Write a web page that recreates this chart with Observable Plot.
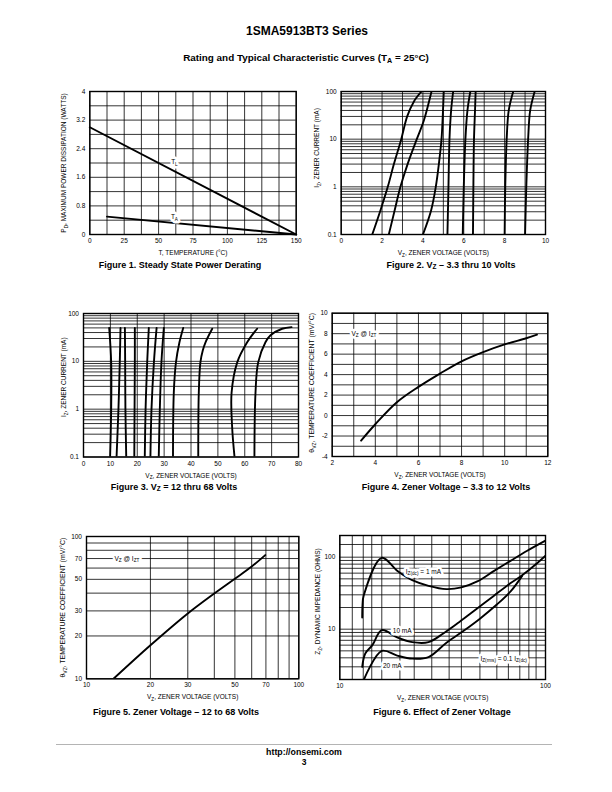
<!DOCTYPE html>
<html><head><meta charset="utf-8">
<script src="https://cdn.jsdelivr.net/npm/d3@7"></script>
<script src="https://cdn.jsdelivr.net/npm/@observablehq/plot@0.6"></script>
<style>
html,body{margin:0;padding:0;background:#fff;}
#page{position:relative;width:612px;height:792px;overflow:hidden;background:#fff;color:#000;font-family:"Liberation Sans",Arial,Helvetica,sans-serif;}
.t{position:absolute;white-space:nowrap;font-weight:bold;transform:translate(-50%,-50%);line-height:1;}
.t sub{font-size:72%;vertical-align:-0.28em;line-height:0;}
.cap{font-size:9px;}
#rule{position:absolute;left:56px;top:743.5px;width:496px;height:1.4px;background:#b4b4b4;}
</style></head>
<body><div id="page">
<div class="t" style="left:307px;top:31px;font-size:12px;">1SMA5913BT3 Series</div>
<div class="t" style="left:306px;top:58px;font-size:9.9px;">Rating and Typical Characteristic Curves (T<sub>A</sub> = 25°C)</div>
<div class="t cap" style="left:180px;top:265px;">Figure 1. Steady State Power Derating</div>
<div class="t cap" style="left:451px;top:265px;">Figure 2. V<sub>Z</sub> – 3.3 thru 10 Volts</div>
<div class="t cap" style="left:174px;top:487px;">Figure 3. V<sub>Z</sub> = 12 thru 68 Volts</div>
<div class="t cap" style="left:446px;top:487px;">Figure 4. Zener Voltage – 3.3 to 12 Volts</div>
<div class="t cap" style="left:176px;top:712px;">Figure 5. Zener Voltage – 12 to 68 Volts</div>
<div class="t cap" style="left:442px;top:712px;">Figure 6. Effect of Zener Voltage</div>
<div id="rule"></div>
<div class="t" style="left:304px;top:752.3px;font-size:8.8px;">http://onsemi.com</div>
<div class="t" style="left:304px;top:762.3px;font-size:8.5px;">3</div>
</div>
<script>
// ---------- DATA ----------
// Figure 1: power derating
const fig1XTicks = [0, 25, 50, 75, 100, 125, 150];
const fig1XGrid = [0, 12.5, 25, 37.5, 50, 62.5, 75, 87.5, 100, 112.5, 125, 137.5, 150];
const fig1YTicks = [0, 0.8, 1.6, 2.4, 3.2, 4];
const fig1YGrid = [0, 0.4, 0.8, 1.2, 1.6, 2.0, 2.4, 2.8, 3.2, 3.6, 4];
const fig1TL = [[0, 3.0], [150, 0]];
const fig1TA = [[12.5, 0.5], [150, 0]];
const fig1Labels = [{x: 61.5, y: 2.02, t: "T_{L}"}, {x: 61.5, y: 0.49, t: "T_{A}"}];

// shared log grid for zener current
const currentGrid = [0.1,0.2,0.3,0.4,0.5,0.6,0.7,0.8,0.9,1,2,3,4,5,6,7,8,9,10,20,30,40,50,60,70,80,90,100];
const currentTicks = [0.1, 1, 10, 100];

// Figure 2: Vz 3.3 thru 10 V  ([volts, mA])
const fig2XTicks = [0, 2, 4, 6, 8, 10];
const fig2XGrid = [0, 1, 2, 3, 4, 5, 6, 7, 8, 9, 10];
const fig2Curves = [
  [[1.52,0.1],[1.92,0.32],[2.28,1],[2.58,3],[2.94,10],[3.23,30],[3.56,62],[3.93,100]],
  [[2.33,0.1],[2.6,0.3],[2.9,1],[3.25,3],[3.7,10],[4.05,25],[4.42,100]],
  [[4.0,0.1],[4.4,0.32],[4.63,1],[4.78,3],[4.91,10],[4.97,30],[5.02,100]],
  [[5.2,0.1],[5.25,1],[5.3,10],[5.38,40],[5.48,100]],
  [[5.95,0.1],[6.0,1],[6.08,10],[6.18,40],[6.32,100]],
  [[6.45,0.1],[6.47,1],[6.5,10],[6.55,40],[6.58,100]],
  [[8.0,0.1],[8.03,1],[8.1,10],[8.2,40],[8.42,100]],
  [[9.0,0.1],[9.06,1],[9.15,10],[9.25,40],[9.47,100]]
];

// Figure 3: Vz 12 thru 68 V
const fig3XTicks = [0, 10, 20, 30, 40, 50, 60, 70, 80];
const fig3Curves = [
  [[9.9,0.1],[10.3,1],[10.3,9.5],[9.56,50]],
  [[12.3,0.1],[13.0,1],[13.5,9.5],[13.77,50]],
  [[15.9,0.1],[15.6,1],[15.5,9.5],[15.4,50]],
  [[18.9,0.1],[19.0,1],[19.1,9.5],[19.1,50]],
  [[22.8,0.1],[23.1,1],[23.7,9.5],[24.3,50]],
  [[24.9,0.1],[25.3,1],[26.2,9.5],[27.2,50]],
  [[28.0,0.1],[28.4,1],[29.0,9.5],[29.9,50]],
  [[33.3,0.1],[33.6,2.2],[34.4,9.5],[35.7,25],[37.1,50]],
  [[42.7,0.1],[42.9,2.2],[43.5,9.5],[44.4,17],[45.4,25],[47.9,48]],
  [[56.2,0.1],[55.3,0.43],[55.1,2.2],[57.2,9.5],[60.9,25],[64.6,48]],
  [[63.6,0.1],[64.0,2.2],[65.0,9.5],[67.7,25],[69.6,35],[73.9,48],[77.4,52]]
];

// Figure 4: temperature coefficient 3.3 to 12 V
const fig4XTicks = [2, 4, 6, 8, 10, 12];
const fig4XGrid = [2, 3, 4, 5, 6, 7, 8, 9, 10, 11, 12];
const fig4YTicks = [-4, -2, 0, 2, 4, 6, 8, 10];
const fig4YGrid = [-4, -3, -2, -1, 0, 1, 2, 3, 4, 5, 6, 7, 8, 9, 10];
const fig4Curve = [[3.34,-2.45],[4,-0.85],[5,1.3],[6,2.8],[7,4.1],[8,5.3],[9,6.2],[10,6.95],[11,7.55],[11.5,7.9]];

// Figure 5: temperature coefficient 12 to 68 V
const fig5Ticks = [10, 20, 30, 50, 70, 100];
const fig5Grid = [10, 20, 30, 40, 50, 60, 70, 80, 90, 100];
const fig5Curve = [[13.4,10],[20,17.2],[30,28.8],[40,39.8],[50,50.5],[60,61.5],[69.5,74]];

// Figure 6: dynamic impedance
const fig6XGrid = [10, 11.5, 13, 14.3, 16, 19.6, 23, 28, 34, 39, 48, 58, 66, 75, 83, 90, 100];
const fig6YGrid = [2,3,4,5,6,7,8,9,10,20,30,40,50,60,70,80,90,100,150,200];
const fig6Ticks = [10, 100];
const fig6Iz1mA = [[12.85,14.5],[12.9,22],[13.07,29.4],[16,98],[19,65],[22.5,48],[27,40],[33,36],[39,38],[46.6,46],[56,64],[67.6,89],[81.5,123],[100,170]];
const fig6Iz10mA = [[12.85,3],[13.3,4.6],[14.4,6],[16,9.7],[19,7.7],[22.5,6.6],[27,6.6],[32,8.8],[38,12.5],[45,18],[56,29],[68,44],[77,56],[88,76],[100,105]];
const fig6Iz20mA = [[13.1,2],[16,5],[19,4.3],[22.5,3.9],[27,4.1],[33,6.5],[40,9.5],[48,14],[58,22],[68,34],[77,55]];
const fig6Labels = [
  {x: 25.5, y: 63, t: "I_{Z(dc)} = 1 mA"},
  {x: 20.1, y: 9.6, t: "10 mA"},
  {x: 18.0, y: 3.1, t: "20 mA"},
  {x: 62.6, y: 3.9, t: "I_{Z(rms)} = 0.1 I_{Z(dc)}"}
];

// ---------- RENDERING ----------
const FONT = "'Liberation Sans',Arial,sans-serif";
const FS = 6.5;
const page = document.getElementById("page");
const NS = "http://www.w3.org/2000/svg";

function subs(svg) {
  svg.querySelectorAll("text").forEach(el => {
    if (el.children.length) return;
    const s = el.textContent;
    if (!s.includes("_{")) return;
    el.textContent = "";
    const re = /_\{([^}]*)\}/g;
    let last = 0, m, shifted = false;
    while ((m = re.exec(s))) {
      if (m.index > last) {
        const t = document.createElementNS(NS, "tspan");
        t.textContent = s.slice(last, m.index);
        if (shifted) { t.setAttribute("dy", "-0.25em"); shifted = false; }
        el.appendChild(t);
      }
      const u = document.createElementNS(NS, "tspan");
      u.textContent = m[1];
      u.setAttribute("font-size", "72%");
      u.setAttribute("dy", "0.35em");
      el.appendChild(u);
      shifted = true;
      last = re.lastIndex;
    }
    if (last < s.length) {
      const t = document.createElementNS(NS, "tspan");
      t.textContent = s.slice(last);
      if (shifted) t.setAttribute("dy", "-0.25em");
      el.appendChild(t);
    }
  });
}

const fmt = d => String(d);
function grid(xs, ys) {
  return [
    Plot.ruleX(xs, {stroke: "black", strokeWidth: 0.8}),
    Plot.ruleY(ys, {stroke: "black", strokeWidth: 0.8})
  ];
}
function axes(xt, yt, xTitle, yTitle, yTitleDx, yTitleDy, yTitleSize = FS) {
  return [
    Plot.text(xt, {x: d => d, text: fmt, frameAnchor: "bottom", dy: 6.5, lineAnchor: "middle", textAnchor: "middle"}),
    Plot.text(yt, {y: d => d, text: fmt, frameAnchor: "left", dx: -4.5, lineAnchor: "middle", textAnchor: "end"}),
    Plot.text([xTitle], {text: d => d, frameAnchor: "bottom", dy: 18.5, lineAnchor: "middle", textAnchor: "middle"}),
    Plot.text([yTitle], {text: d => d, frameAnchor: "left", dx: yTitleDx, dy: yTitleDy, rotate: -90, lineAnchor: "middle", textAnchor: "middle", fontSize: yTitleSize}),
    Plot.frame({stroke: "black", strokeWidth: 1.4})
  ];
}
function curveMark(c) {
  return Plot.line(c, {x: d => d[0], y: d => d[1], curve: "catmull-rom", stroke: "black", strokeWidth: 1.9, clip: true});
}
function halo(data) {
  const o = {x: "x", y: "y", text: "t", textAnchor: "middle", lineAnchor: "middle"};
  return [
    Plot.text(data, {...o, fill: "white", stroke: "white", strokeWidth: 5, strokeLinejoin: "round"}),
    Plot.text(data, {...o, fill: "black"})
  ];
}
function chart(box, frame, x, y, marks) {
  const [bx0, by0, bx1, by1] = box, [fx0, fy0, fx1, fy1] = frame;
  const svg = Plot.plot({
    width: bx1 - bx0, height: by1 - by0,
    marginLeft: fx0 - bx0, marginRight: bx1 - fx1, marginTop: fy0 - by0, marginBottom: by1 - fy1,
    x: {...x, axis: null}, y: {...y, axis: null},
    style: {fontFamily: FONT, fontSize: FS + "px", color: "black", background: "transparent", overflow: "visible"},
    marks
  });
  svg.style.position = "absolute";
  svg.style.left = bx0 + "px";
  svg.style.top = by0 + "px";
  subs(svg);
  page.appendChild(svg);
}

// Figure 1
chart([38, 84, 305, 260], [89.3, 91, 295.7, 234],
  {domain: [0, 150]}, {domain: [0, 4]},
  [
    ...grid(fig1XGrid, fig1YGrid),
    Plot.line(fig1TL, {x: d => d[0], y: d => d[1], stroke: "black", strokeWidth: 1.9}),
    Plot.line(fig1TA, {x: d => d[0], y: d => d[1], stroke: "black", strokeWidth: 1.9}),
    ...halo(fig1Labels),
    ...axes(fig1XTicks, fig1YTicks, "T, TEMPERATURE (°C)", "P_{D}, MAXIMUM POWER DISSIPATION (WATTS)", -26, 0)
  ]);

// Figure 2
chart([305, 84, 560, 260], [340.7, 91, 545, 234],
  {domain: [0, 10]}, {type: "log", domain: [0.1, 100]},
  [
    ...grid(fig2XGrid, currentGrid),
    ...fig2Curves.map(curveMark),
    ...axes(fig2XTicks, currentTicks, "V_{Z}, ZENER VOLTAGE (VOLTS)", "I_{Z}, ZENER CURRENT (mA)", -24, -15)
  ]);

// Figure 3
chart([38, 306, 305, 482], [83, 313, 298, 456.5],
  {domain: [0, 80]}, {type: "log", domain: [0.1, 100]},
  [
    ...grid(fig3XTicks, currentGrid),
    ...fig3Curves.map(curveMark),
    ...axes(fig3XTicks, currentTicks, "V_{Z}, ZENER VOLTAGE (VOLTS)", "I_{Z}, ZENER CURRENT (mA)", -19.7, -8)
  ]);

// Figure 4
chart([305, 306, 560, 482], [331.7, 312.7, 547.3, 456],
  {domain: [2, 12]}, {domain: [-4, 10]},
  [
    ...grid(fig4XGrid, fig4YGrid),
    curveMark(fig4Curve),
    ...halo([{x: 3.47, y: 8, t: "V_{Z} @ I_{ZT}"}]),
    ...axes(fig4XTicks, fig4YTicks, "V_{Z}, ZENER VOLTAGE (VOLTS)", "θ_{VZ}, TEMPERATURE COEFFICIENT (mV/°C)", -20, -2, 6.9)
  ]);

// Figure 5
chart([38, 528, 305, 705], [86, 536, 298.3, 678.3],
  {type: "log", domain: [10, 100]}, {type: "log", domain: [10, 100]},
  [
    ...grid(fig5Grid, fig5Grid),
    curveMark(fig5Curve),
    ...halo([{x: 15.5, y: 70, t: "V_{Z} @ I_{ZT}"}]),
    ...axes(fig5Ticks, fig5Ticks, "V_{Z}, ZENER VOLTAGE (VOLTS)", "θ_{VZ}, TEMPERATURE COEFFICIENT (mV/°C)", -23.3, 0, 6.9)
  ]);

// Figure 6
chart([305, 528, 560, 705], [339.3, 535, 545, 679],
  {type: "log", domain: [10, 100]}, {type: "log", domain: [2, 200]},
  [
    ...grid(fig6XGrid, fig6YGrid),
    curveMark(fig6Iz1mA),
    curveMark(fig6Iz10mA),
    curveMark(fig6Iz20mA),
    ...halo(fig6Labels),
    ...axes(fig6Ticks, fig6Ticks, "V_{Z}, ZENER VOLTAGE (VOLTS)", "Z_{Z}, DYNAMIC IMPEDANCE (OHMS)", -22, -6)
  ]);
</script>
</body></html>
